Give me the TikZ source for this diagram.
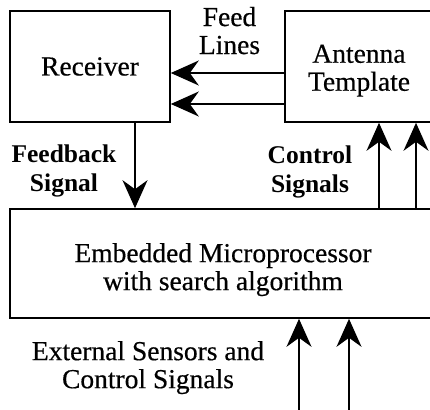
\documentclass[tikz,border=0pt]{standalone}
\usepackage{fontspec}
\setmainfont{Liberation Serif}
\newfontfamily\regfont{Liberation Serif}[FakeBold=0.45]
\usetikzlibrary{arrows.meta,calc}
\begin{document}
\begin{tikzpicture}[x=1pt,y=-1pt,
  box/.style={draw,line width=1.6pt,inner sep=0pt},
  arr/.style={line width=1.6pt,-{Stealth[length=28pt,width=25pt,inset=9pt]}},
  txt/.style={font=\regfont\fontsize{27.5}{28}\selectfont,align=center,inner sep=0pt},
  btxt/.style={font=\fontsize{25.5}{29}\selectfont\bfseries,align=center,inner sep=0pt}]
\useasboundingbox (0,0) rectangle (430,409);
\clip (0,0) rectangle (430,409);
\node[box,txt,minimum width=160pt,minimum height=111pt] (rec) at (90,66.5) {Receiver};
\node[box,minimum width=150pt,minimum height=111pt] (ant) at (360,66.5) {};
\node[txt] (antt) at (359,70.6) {Antenna\\Template};
\node[box,minimum width=426pt,minimum height=109pt] (emb) at (223,263.5) {};
\node[txt] (embt) at (223,269.6) {Embedded Microprocessor\\with search algorithm};
\node[txt] (feedl) at (229.5,30.6) {Feed\\Lines};
\node[btxt] (fbs) at (64,170.5) {Feedback\\Signal};
\node[btxt] (cs) at (310,171.6) {Control\\Signals};
\node[txt] (ext) at (148,367.6) {External Sensors and\\Control Signals};
\draw[arr] (ant.west |- 0,73) -- (rec.east |- 0,73);
\draw[arr] (ant.west |- 0,104) -- (rec.east |- 0,104);
\draw[arr] (rec.south -| 135,0) -- (emb.north -| 135,0);
\draw[arr] (emb.north -| 379,0) -- (ant.south -| 379,0);
\draw[arr] (emb.north -| 416,0) -- (ant.south -| 416,0);
\coordinate (e1) at (299,412);
\coordinate (e2) at (349,412);
\draw[arr] (e1) -- (emb.south -| e1);
\draw[arr] (e2) -- (emb.south -| e2);
\end{tikzpicture}
\end{document}
